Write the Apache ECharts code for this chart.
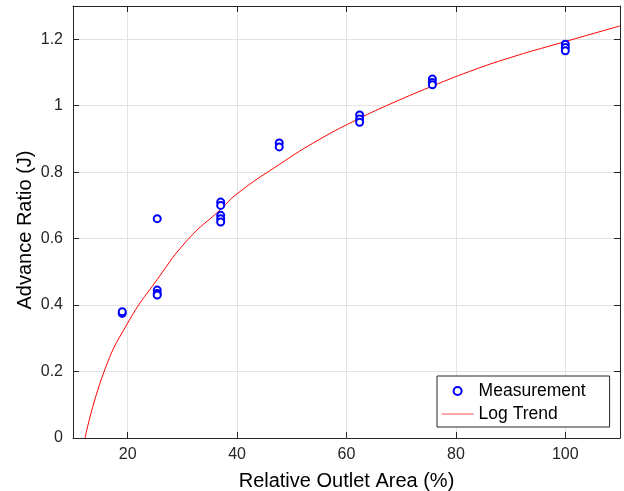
<!DOCTYPE html>
<html>
<head>
<meta charset="utf-8">
<script src="https://cdn.jsdelivr.net/npm/echarts@6/dist/echarts.min.js"></script>
<style>
  html, body { margin: 0; padding: 0; background: #fff; }
  #chart { width: 624px; height: 491px; }
</style>
</head>
<body>
<div id="chart"></div>
<script>
// measured points
let measX = [19, 19, 25.4, 25.4, 25.4, 25.4, 37, 37, 37, 37, 37, 47.7, 47.7, 62.4, 62.4, 62.4, 75.7, 75.7, 75.7, 100, 100, 100]
let measY = [0.375, 0.38, 0.66, 0.445, 0.435, 0.43, 0.71, 0.70, 0.67, 0.66, 0.65, 0.888, 0.876, 0.972, 0.96, 0.95, 1.08, 1.07, 1.063, 1.185, 1.175, 1.165]

// trend curve
let trendX = [12.2, 15.6, 20, 25.4, 31, 37, 40, 47.7, 55, 62.4, 67.3, 75.7, 82.5, 90, 100, 110]
let trendY = [0, 0.196, 0.346, 0.477, 0.597, 0.688, 0.735, 0.823, 0.898, 0.962, 1.0, 1.059, 1.103, 1.145, 1.193, 1.24]

let xTicks = [20, 40, 60, 80, 100]
let yTicks = [0, 0.2, 0.4, 0.6, 0.8, 1, 1.2]

let axisColor = '#262626'
let gridColor = '#e3e3e3'
let font = 'Liberation Sans, Arial, Helvetica, sans-serif'

function zip(xs, ys) {
  return xs.map((x, i) => [x, ys[i]])
}

function boxAxis(pos, min, max, ticks) {
  return {
    type: 'value',
    position: pos,
    min: min,
    max: max,
    axisLine: { show: true, onZero: false, lineStyle: { color: axisColor, width: 1 } },
    axisTick: { show: true, inside: true, length: 6, customValues: ticks, lineStyle: { color: axisColor } },
    axisLabel: { show: false },
    splitLine: { show: false }
  }
}

let chart = echarts.init(document.getElementById('chart'))
chart.setOption({
  animation: false,
  backgroundColor: '#fff',
  textStyle: { fontFamily: font },
  grid: { left: 73, right: 4, top: 6, bottom: 53, containLabel: false, outerBoundsMode: 'none' },
  legend: {
    orient: 'vertical',
    left: 437,
    top: 376,
    padding: [6, 24, 4, 4],
    itemWidth: 32,
    itemHeight: 8,
    itemGap: 5,
    backgroundColor: '#fff',
    borderColor: axisColor,
    borderWidth: 1,
    textStyle: { fontSize: 17.5, color: '#000', fontFamily: font },
    data: [
      { name: 'Measurement' },
      { name: 'Log Trend', itemStyle: { opacity: 0 }, lineStyle: { color: '#ff5050', width: 1.2 } }
    ]
  },
  xAxis: [
    {
      type: 'value',
      position: 'bottom',
      min: 10,
      max: 110,
      name: 'Relative Outlet Area (%)',
      nameLocation: 'middle',
      nameGap: 33,
      nameMoveOverlap: false,
      nameTextStyle: { fontSize: 20, color: '#000', fontFamily: font },
      axisLine: { show: true, onZero: false, lineStyle: { color: axisColor, width: 1 } },
      axisTick: { show: true, inside: true, length: 6, customValues: xTicks, lineStyle: { color: axisColor } },
      axisLabel: { customValues: xTicks, fontSize: 16, color: axisColor, margin: 9, fontFamily: font },
      splitLine: { show: true, lineStyle: { color: gridColor, width: 1 } }
    },
    boxAxis('top', 10, 110, xTicks)
  ],
  yAxis: [
    {
      type: 'value',
      position: 'left',
      min: 0,
      max: 1.3,
      name: 'Advance Ratio (J)',
      nameLocation: 'middle',
      nameGap: 38,
      nameMoveOverlap: false,
      nameTextStyle: { fontSize: 20, color: '#000', fontFamily: font, padding: [0, 16, 0, 0] },
      axisLine: { show: true, onZero: false, lineStyle: { color: axisColor, width: 1 } },
      axisTick: { show: true, inside: true, length: 6, customValues: yTicks, lineStyle: { color: axisColor } },
      axisLabel: { customValues: yTicks, fontSize: 16, color: axisColor, margin: 10, fontFamily: font },
      splitLine: { show: true, lineStyle: { color: gridColor, width: 1 } }
    },
    boxAxis('right', 0, 1.3, yTicks)
  ],
  series: [
    {
      name: 'Measurement',
      type: 'scatter',
      symbol: 'emptyCircle',
      symbolSize: 7,
      itemStyle: { color: '#0000ff', borderColor: '#0000ff', borderWidth: 1.3, opacity: 1 },
      data: zip(measX, measY),
      z: 3
    },
    {
      name: 'Log Trend',
      type: 'line',
      smooth: true,
      symbol: 'none',
      lineStyle: { color: '#ff0000', width: 1 },
      itemStyle: { color: '#ff0000' },
      data: zip(trendX, trendY),
      z: 2
    }
  ]
})
</script>
</body>
</html>
